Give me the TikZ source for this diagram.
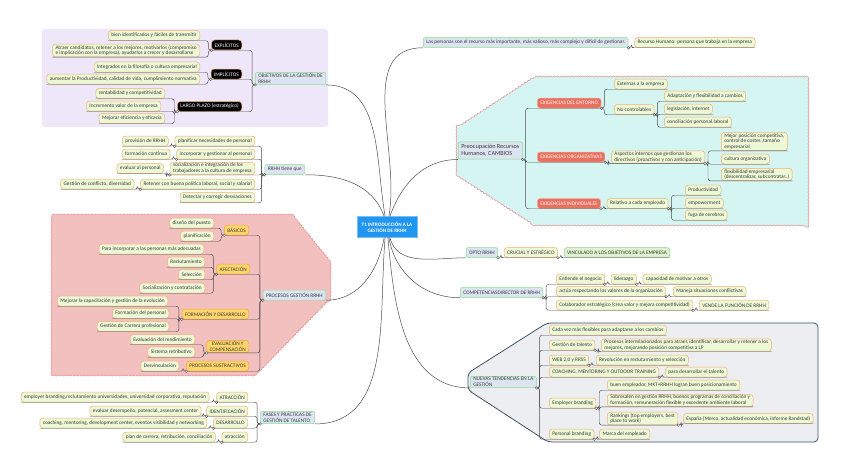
\documentclass[tikz,border=0pt]{standalone}
\usepackage{fontspec}
\setmainfont{Carlito}
\usepackage{tikz}
\usetikzlibrary{positioning,calc,decorations.pathmorphing}
\definecolor{leafgreen}{HTML}{ECF8D6}
\definecolor{leafedge}{HTML}{F2B072}
\definecolor{topicblue}{HTML}{DCE4F2}
\definecolor{topicedge}{HTML}{86E08A}
\definecolor{catorange}{HTML}{FDD56A}
\definecolor{catedge}{HTML}{F2A447}
\definecolor{exired}{HTML}{E8705E}
\definecolor{rootblue}{HTML}{2196F0}
\definecolor{lineg}{HTML}{4D4D4D}
\definecolor{txtgray}{HTML}{3A3A3A}
\definecolor{lavender}{HTML}{EDE7F9}
\definecolor{blobpink}{HTML}{F3C0C0}
\definecolor{blobedge}{HTML}{E49A9A}
\definecolor{blobcyan}{HTML}{D4F5F2}
\definecolor{trendgray}{HTML}{ECEEF1}
\definecolor{trendedge}{HTML}{3F5266}
\definecolor{vincgreen}{HTML}{DDF3D0}
\definecolor{vincedge}{HTML}{9CC79C}

\tikzset{
  base/.style={rounded corners=3pt, inner xsep=3pt, inner ysep=1pt, minimum height=10pt,
    font=\fontsize{5.3}{5.9}\selectfont, text=txtgray, align=left, line width=0.5pt},
  leaf/.style={base, fill=leafgreen, draw=leafedge},
  vinc/.style={base, fill=vincgreen, draw=vincedge},
  topic/.style={base, fill=topicblue, draw=topicedge, rounded corners=2pt},
  blackcat/.style={base, fill=black, draw=leafedge, text=white},
  orangecat/.style={base, fill=catorange, draw=catedge},
  exig/.style={base, fill=exired, draw=exired!60!white, text=white},
  rootbox/.style={fill=rootblue, draw=rootblue!60!white, text=white, align=center,
    minimum width=60pt, minimum height=21pt, font=\fontsize{5.1}{6.2}\selectfont\bfseries},
  lconn/.style={draw=lineg, line width=0.45pt, rounded corners=2.5pt},
  mainconn/.style={draw=lineg, line width=0.5pt},
  jdot/.style={circle, draw=lineg, fill=white, line width=0.4pt, inner sep=0pt, minimum size=2.6pt},
  blob/.style={line width=0.6pt, decorate, decoration={bumps, segment length=7pt, amplitude=1pt}},
}

\begin{document}
\begin{tikzpicture}[x=1pt,y=-1pt]
\useasboundingbox (0,0) rectangle (848,452);
\fill[white] (0,0) rectangle (848,452);

\fill[lavender, rounded corners=3pt] (42,29) rectangle (328,127);
\path[blob, draw=blobedge, fill=blobpink] (52,215) -- (292,215) -- (330,262) -- (330,298) -- (255,375) -- (52,375) -- cycle;
\path[blob, draw=blobedge, fill=blobcyan] (535,77) -- (808,77) -- (808,225) -- (535,225) -- (457,175) -- (457,128) -- cycle;
\draw[trendedge, fill=trendgray, line width=0.8pt, rounded corners=4pt] (547,323) -- (818,323) -- (818,442) -- (548,442) -- (468,390) -- (468,373) -- cycle;

\node[rootbox] (root) at (387,227) {T1 INTRODUCCIÓN A LA\\GESTIÓN DE RRHH};

\node[topic, anchor=east] (obj) at (326,78.5) {OBJETIVOS DE LA GESTIÓN DE\\RRHH};
\node[blackcat, anchor=east] (expl) at (242,45) {EXPLÍCITOS};
\node[blackcat, anchor=east] (impl) at (242,74) {IMPLÍCITOS};
\node[blackcat, anchor=east] (largo) at (242,106.5) {LARGO PLAZO (estratégico)};
\node[leaf, anchor=east] (bien) at (200,35.5) {bien identificados y fáciles de transmitir};
\node[leaf, anchor=east] (atraer) at (200,50.5) {Atraer candidatos, retener a los mejores, motivarlos (compromiso\\e implicación con la empresa), ayudarlos a crecer y desarrollarse};
\node[leaf, anchor=east] (integ) at (200,67) {Integrados en la filosofía o cultura empresarial};
\node[leaf, anchor=east] (aument) at (200,79) {aumentar la Productividad, calidad de vida, cumplimiento normativa};
\node[leaf, anchor=east] (rentab) at (165,93.5) {rentabilidad y competitividad};
\node[leaf, anchor=east] (increm) at (161,106) {Incremento valor de la empresa};
\node[leaf, anchor=east] (mejef) at (165,118.5) {Mejorar eficiencia y eficacia};

\node[topic, anchor=east] (rrhh) at (305,169.5) {RRHH tiene que};
\node[leaf, anchor=east] (planif) at (255,141) {planificar necesidades de personal};
\node[leaf, anchor=east] (incorp) at (255,154) {incorporar y gestionar al personal};
\node[leaf, anchor=east] (social) at (255,168.5) {socialización e integración de los\\trabajadores a la cultura de empresa};
\node[leaf, anchor=east] (retener) at (255,184) {Retener con buena política laboral, social y salarial};
\node[leaf, anchor=east] (detect) at (255,197.5) {Detectar y corregir desviaciones};
\node[leaf, left=6pt of planif] (provis) {provisión de RRHH};
\node[leaf, left=6pt of incorp] (formcont) {formación continua};
\node[leaf, left=6pt of social] (evalper) {evaluar al personal};
\node[leaf, left=6pt of retener] (conflic) {Gestión de conflicto, diversidad};

\node[topic, anchor=east] (procesos) at (326,295) {PROCESOS GESTIÓN RRHH};
\node[orangecat, anchor=east] (basicos) at (249,230) {BÁSICOS};
\node[orangecat, anchor=east] (afect) at (250,269) {AFECTACIÓN};
\node[orangecat, anchor=east] (formdes) at (249,314) {FORMACIÓN Y DESARROLLO};
\node[orangecat, anchor=east, align=center] (evalcomp) at (249,346.5) {EVALUACIÓN Y\\COMPENSACIÓN};
\node[orangecat, anchor=east] (sustr) at (249,366) {PROCESOS SUSTRACTIVOS};
\node[leaf, anchor=east] (diseno) at (214,223) {diseño del puesto};
\node[leaf, anchor=east] (planific) at (214,236) {planificación};
\node[leaf, anchor=east] (paraincorp) at (204,249) {Para incorporar a las personas más adecuadas};
\node[leaf, anchor=east] (reclut) at (205,262) {Reclutamiento};
\node[leaf, anchor=east] (selecc) at (205,274.5) {Selección};
\node[leaf, anchor=east] (socialcont) at (205,288) {Socialización y contratación};
\node[leaf, anchor=east] (mejcap) at (168,301) {Mejorar la capacitación y gestión de la evolución};
\node[leaf, anchor=east] (formper) at (169,313.5) {Formación del personal};
\node[leaf, anchor=east] (gestcarr) at (169,326.5) {Gestión de Carrera profesional};
\node[leaf, anchor=east] (evalrend) at (195,339.5) {Evaluación del rendimiento};
\node[leaf, anchor=east] (sistret) at (195,352) {Sistema retributivo};
\node[leaf, left=7pt of sustr] (desvinc) {Desvinculación};

\node[topic, anchor=east] (fases) at (315,417.5) {FASES Y PRÁCTICAS DE\\GESTIÓN DE TALENTO};
\node[leaf, anchor=east] (atrac) at (248,397) {ATRACCIÓN};
\node[leaf, anchor=east] (ident) at (248,411) {IDENTIFICACIÓN};
\node[leaf, anchor=east] (desarr) at (248,423) {DESARROLLO};
\node[leaf, anchor=east] (atrac2) at (248,437) {atracción};
\node[leaf, left=7pt of atrac] (emplbr) {employer branding,reclutamiento universidades, universidad corporativa, reputación};
\node[leaf, left=5pt of ident] (evaldes) {evaluar desempeño, potencial, assesment center};
\node[leaf, left=6pt of desarr] (coach) {coaching, mentoring, development center, eventos visibilidad y networking};
\node[leaf, left=6pt of atrac2] (plancarr) {plan de carrera, retribución, conciliación};

\node[topic, anchor=west] (personas) at (423,42.5) {Las personas son el recurso más importante, más valioso, más complejo y difícil de gestionar.};
\node[leaf, right=6pt of personas] (recurso) {Recurso Humano: persona que trabaja en la empresa};

\node[topic, anchor=west, font=\fontsize{6.2}{7.4}\selectfont, inner ysep=2.5pt] (preoc) at (458,150.5) {Preocupación Recursos\\Humanos, CAMBIOS};
\node[exig, anchor=west] (entorno) at (537,103) {EXIGENCIAS DEL ENTORNO};
\node[exig, anchor=west] (organiz) at (537,157) {EXIGENCIAS ORGANIZATIVAS};
\node[exig, anchor=west] (indiv) at (537,203.5) {EXIGENCIAS INDIVIDUALES};
\node[leaf, anchor=west] (externas) at (614,84) {Externas a la empresa};
\node[leaf, anchor=west] (nocontr) at (614,109.5) {No controlables};
\node[leaf, anchor=west] (adapt) at (664,96) {Adaptación y flexibilidad a cambios};
\node[leaf, anchor=west] (legis) at (664,109) {legislación, internet};
\node[leaf, anchor=west] (concil) at (664,122) {conciliación personal.laboral};
\node[leaf, right=6pt of organiz] (aspectos) {Aspectos internos que gestionan los\\directivos (proactivos y con anticipación)};
\node[leaf, anchor=west] (mejpos) at (721,141.5) {Mejor posición competitiva,\\control de costes ,tamaño\\empresarial};
\node[leaf, anchor=west] (cultura) at (721,159) {cultura organizativa};
\node[leaf, anchor=west] (flexib) at (721,174.5) {flexibilidad empresarial\\(descentralizar, subcontratar..)};
\node[leaf, right=6pt of indiv] (relativo) {Relativo a cada empleado};
\node[leaf, anchor=west] (product) at (685,190) {Productividad};
\node[leaf, anchor=west] (empower) at (685,203) {empowerment};
\node[leaf, anchor=west] (fuga) at (685,215) {fuga de cerebros};

\node[topic, anchor=west] (dpto) at (466,252.5) {DPTO RRHH};
\node[leaf, right=6pt of dpto] (crucial) {CRUCIAL Y ESTRÉGICO};
\node[vinc, right=6pt of crucial] (vincul) {VINCULADO A LOS OBJETIVOS DE LA EMPRESA};

\node[topic, anchor=west] (compet) at (460,292.5) {COMPETENCIASDIRECTOR DE RRHH};
\node[leaf, anchor=west] (entiende) at (556,279) {Entiende el negocio};
\node[leaf, right=6pt of entiende] (lider) {liderazgo};
\node[leaf, right=6pt of lider] (capac) {capacidad de motivar a otros};
\node[leaf, anchor=west] (actua) at (556,291.5) {actúa respectando los valores de la organización};
\node[leaf, right=7pt of actua] (maneja) {Maneja situaciones conflictivas};
\node[leaf, anchor=west] (colab) at (556,305) {Colaborador estratégico (crea valor y mejora competitividad)};
\node[leaf, right=6pt of colab] (vende) {VENDE LA FUNCIÓN DE RRHH};

\node[topic, anchor=west] (nuevas) at (470,382) {NUEVAS TENDENCIAS EN LA\\GESTIÓN};
\node[leaf, anchor=west] (cadavez) at (549,330) {Cada vez más flexibles para adaptarse a los cambios};
\node[leaf, anchor=west] (gesttal) at (549,345) {Gestión de talento};
\node[leaf, right=6pt of gesttal] (procint) {Procesos interrelacionados para atraer, identificar, desarrollar y retener a los\\mejores, mejorando posición competitiva a LP};
\node[leaf, anchor=west] (web) at (549,360) {WEB 2.0 y RRSS};
\node[leaf, right=7pt of web] (revol) {Revolución en reclutamiento y selección};
\node[leaf, anchor=west] (coachtr) at (549,372) {COACHING, MENTORING Y OUTDOOR TRAINING};
\node[leaf, right=6pt of coachtr] (paradesa) {para desarrollar el talento};
\node[leaf, anchor=west] (emplb) at (549,403) {Employer branding};
\node[leaf, anchor=west] (buenemp) at (607,385) {buen empleador, MKT+RRHH logran buen posicionamiento};
\node[leaf, anchor=west] (sobres) at (607,400.5) {Sobresalen en gestión RRHH, buenos programas de conciliación y\\formación, remuneración flexible y excedente ambiente laboral};
\node[leaf, anchor=west] (rank) at (607,418.5) {Rankings (top employers, best\\place to work)};
\node[leaf, right=5pt of rank] (espana) {España (Merco, actualidad económica, informe Randstad)};
\node[leaf, anchor=west] (persbr) at (549,434) {Personal branding};
\node[leaf, right=5pt of persbr] (marca) {Marca del empleado};

\draw[mainconn] (root.100) to[out=100,in=0] (obj.south east);
\draw[mainconn] (root.105) to[out=110,in=0] (rrhh.south east);
\draw[mainconn] (root.255) to[out=-100,in=0] (procesos.south east);
\draw[mainconn] (root.260) to[out=-95,in=0] (fases.south east);
\draw[mainconn] (root.80) to[out=80,in=180] (personas.south west);
\draw[mainconn] (root.75) to[out=70,in=180] (preoc.south west);
\draw[mainconn] (root.285) to[out=-75,in=180] (dpto.south west);
\draw[mainconn] (root.280) to[out=-80,in=180] (compet.south west);
\draw[mainconn] (root.275) to[out=-85,in=180] (nuevas.south west);

\foreach \p/\cs in {obj/{expl,impl,largo}, expl/{bien,atraer}, impl/{integ,aument}, largo/{rentab,increm,mejef},
    rrhh/{planif,incorp,social,retener,detect}, planif/provis, incorp/formcont, social/evalper, retener/conflic,
    procesos/{basicos,afect,formdes,evalcomp,sustr}, basicos/{diseno,planific}, afect/{paraincorp,reclut,selecc,socialcont},
    formdes/{mejcap,formper,gestcarr}, evalcomp/{evalrend,sistret}, sustr/desvinc,
    fases/{atrac,ident,desarr,atrac2}, atrac/emplbr, ident/evaldes, desarr/coach, atrac2/plancarr}
  \foreach \c in \cs
    \draw[lconn] (\p.south west) -- ++(-3,0) |- (\c.south east) -- (\c.south west);

\foreach \p/\cs in {personas/recurso, preoc/{entorno,organiz,indiv}, entorno/{externas,nocontr}, nocontr/{adapt,legis,concil},
    organiz/aspectos, aspectos/{mejpos,cultura,flexib}, indiv/relativo, relativo/{product,empower,fuga},
    dpto/crucial, crucial/vincul, compet/{entiende,actua,colab}, entiende/lider, lider/capac, actua/maneja, colab/vende,
    nuevas/{cadavez,gesttal,web,coachtr,emplb,persbr}, gesttal/procint, web/revol, coachtr/paradesa,
    emplb/{buenemp,sobres,rank}, rank/espana, persbr/marca}
  \foreach \c in \cs
    \draw[lconn] (\p.south east) -- ++(3,0) |- (\c.south west) -- (\c.south east);

\foreach \p in {obj,expl,impl,largo,rrhh,planif,incorp,social,retener,procesos,basicos,afect,formdes,evalcomp,sustr,fases,atrac,ident,desarr,atrac2}
  \node[jdot] at (\p.south west) {};
\foreach \p in {personas,preoc,entorno,nocontr,organiz,aspectos,indiv,relativo,dpto,crucial,compet,entiende,lider,actua,colab,nuevas,gesttal,web,coachtr,emplb,rank,persbr}
  \node[jdot] at (\p.south east) {};
\end{tikzpicture}
\end{document}
